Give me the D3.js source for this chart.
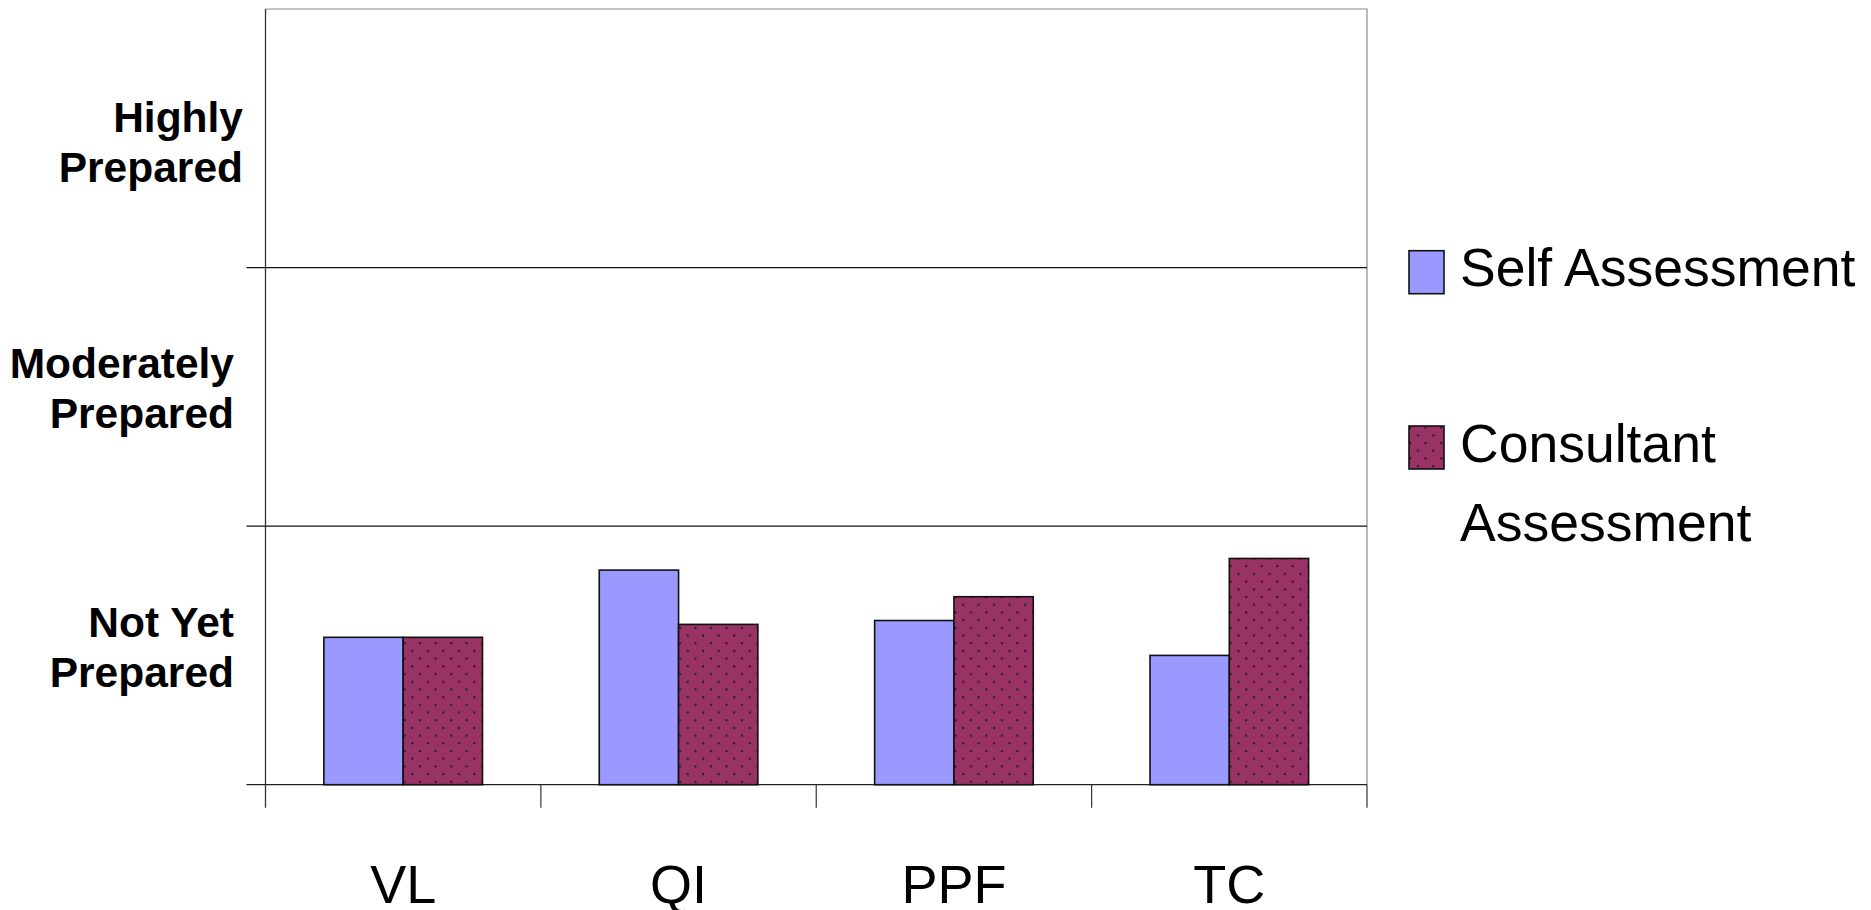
<!DOCTYPE html>
<html>
<head>
<meta charset="utf-8">
<script src="https://cdn.jsdelivr.net/npm/d3@7"></script>
<style>
  html, body { margin: 0; padding: 0; background: #fff; }
  svg { display: block; }
  text { font-family: "Liberation Sans", Arial, sans-serif; }
</style>
</head>
<body>
<svg id="chart" width="1871" height="910"></svg>
<script>
// Categories and series
const categories = ["VL", "QI", "PPF", "TC"];
const seriesNames = ["Self Assessment", "Consultant Assessment"];
const selfValues = [0.57, 0.83, 0.635, 0.50];
const consultantValues = [0.57, 0.62, 0.727, 0.875];
// Rating levels, bottom band first; each is drawn on two lines
const levelLabels = [["Not Yet", "Prepared"], ["Moderately", "Prepared"], ["Highly", "Prepared"]];

const svg = d3.select("#chart");
const plot = { left: 265.5, right: 1367, top: 9, bottom: 784.7 };

const x0 = d3.scaleBand().domain(categories).range([plot.left, plot.right]).padding(0);
const bw = x0.bandwidth();
const gap = bw * 0.212;
const x1 = d3.scaleBand().domain(seriesNames).range([gap, bw - gap]).padding(0);
const y = d3.scaleLinear().domain([0, levelLabels.length]).range([plot.bottom, plot.top]);
const color = d3.scaleOrdinal().domain(seriesNames).range(["#9999FF", "url(#dots)"]);

// Dotted fill for the consultant series
const defs = svg.append("defs");
const pat = defs.append("pattern")
  .attr("id", "dots").attr("patternUnits", "userSpaceOnUse")
  .attr("width", 15.5).attr("height", 15.4)
  .attr("x", x0("VL") + x1(seriesNames[1]) + 6).attr("y", 3);
pat.append("rect").attr("width", 15.5).attr("height", 15.4).attr("fill", "#993366");
pat.append("circle").attr("cx", 1.2).attr("cy", 1.2).attr("r", 1.1).attr("fill", "#1a1a1a");
pat.append("circle").attr("cx", 8.95).attr("cy", 8.9).attr("r", 1.1).attr("fill", "#1a1a1a");

// Plot frame (top and right in grey)
svg.append("path")
  .attr("d", `M${plot.left},${plot.top}H${plot.right}V${plot.bottom}`)
  .attr("fill", "none").attr("stroke", "#8a8a8a").attr("stroke-width", 1.2);

// Horizontal level lines with left ticks
const levelTicks = d3.range(0, levelLabels.length);
svg.append("g").selectAll("line").data(levelTicks).join("line")
  .attr("x1", plot.left - 19).attr("x2", plot.right)
  .attr("y1", d => y(d)).attr("y2", d => y(d))
  .attr("stroke", d => d === 0 ? "#222" : "#111").attr("stroke-width", 1.2);

// Bars
const rows = categories.map((c, i) => ({ cat: c, vals: [selfValues[i], consultantValues[i]] }));
const groups = svg.append("g").selectAll("g").data(rows).join("g")
  .attr("transform", d => `translate(${x0(d.cat)},0)`);
groups.selectAll("rect")
  .data(d => d.vals.map((v, k) => ({ name: seriesNames[k], v })))
  .join("rect")
  .attr("x", d => x1(d.name))
  .attr("width", x1.bandwidth())
  .attr("y", d => y(d.v))
  .attr("height", d => y(0) - y(d.v))
  .attr("fill", d => color(d.name))
  .attr("stroke", "#111").attr("stroke-width", 1.6);

// Left axis line and bottom category ticks
svg.append("line")
  .attr("x1", plot.left).attr("x2", plot.left)
  .attr("y1", plot.top).attr("y2", plot.bottom + 23)
  .attr("stroke", "#333").attr("stroke-width", 1.3);
const bounds = categories.map(c => x0(c)).concat([x0(categories[categories.length - 1]) + bw]);
svg.append("g").selectAll("line").data(bounds.slice(1)).join("line")
  .attr("x1", d => d).attr("x2", d => d)
  .attr("y1", plot.bottom).attr("y2", plot.bottom + 23)
  .attr("stroke", "#333").attr("stroke-width", 1.2);

// Category labels
svg.append("g").selectAll("text").data(categories).join("text")
  .attr("x", d => x0(d) + bw / 2)
  .attr("y", 903)
  .attr("text-anchor", "middle")
  .attr("font-size", 54)
  .attr("fill", "#000")
  .text(d => d);

// Level labels, right aligned beside the bands
const lvl = svg.append("g").selectAll("text").data(levelLabels).join("text")
  .attr("text-anchor", "end")
  .attr("font-size", 42.5)
  .attr("font-weight", "bold")
  .attr("fill", "#000")
  .attr("transform", (d, i) => {
    const mid = (y(i) + y(i + 1)) / 2;
    const shift = i === levelLabels.length - 1 ? 4 : -8;
    const xr = i === levelLabels.length - 1 ? 243 : 234;
    return `translate(${xr},${mid + shift - 10.7})`;
  });
lvl.selectAll("tspan").data(d => d).join("tspan")
  .attr("x", 0)
  .attr("y", (d, j) => j === 0 ? 0 : 50)
  .text(d => d);

// Legend
const legendRows = [
  { name: seriesNames[0], lines: ["Self Assessment"], top: 250.7 },
  { name: seriesNames[1], lines: ["Consultant", "Assessment"], top: 426 }
];
const lg = svg.append("g").selectAll("g").data(legendRows).join("g");
lg.append("rect")
  .attr("x", 1409).attr("y", d => d.top)
  .attr("width", 35).attr("height", 43)
  .attr("fill", d => color(d.name))
  .attr("stroke", "#111").attr("stroke-width", 1.6);
lg.append("text")
  .attr("font-size", 53.5)
  .attr("fill", "#000")
  .selectAll("tspan").data(d => d.lines.map((t, j) => ({ t, j, top: d.top }))).join("tspan")
  .attr("x", 1460)
  .attr("y", d => d.top + 35.5 + d.j * 79.5)
  .text(d => d.t);
</script>
</body>
</html>
